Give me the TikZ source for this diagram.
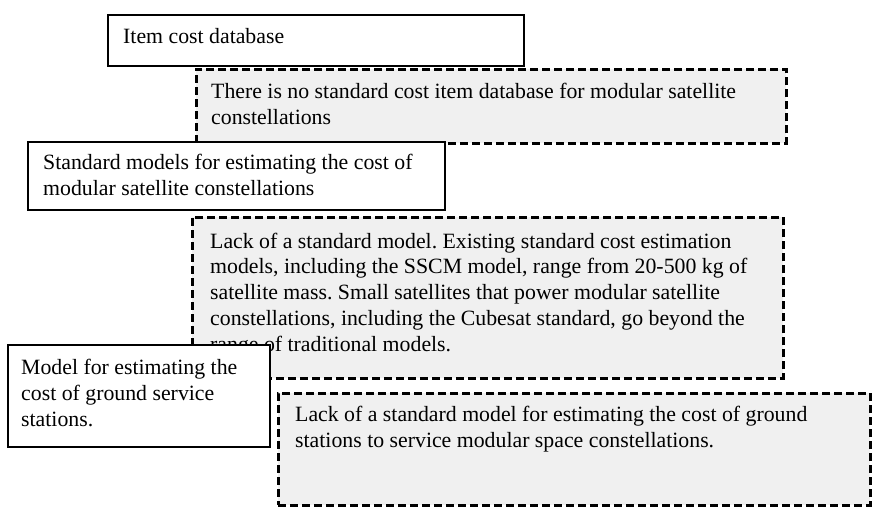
\documentclass[tikz,border=0pt]{standalone}
\usepackage{fontspec}
\setmainfont{Liberation Serif}
\usetikzlibrary{positioning}

\tikzset{
  factor/.style={draw, line width=2pt, fill=white, anchor=north west, inner sep=0pt, outer sep=0pt},
  gapbox/.style={draw, dash pattern=on 8pt off 4pt, line width=3pt, fill=black!6, anchor=north west, inner sep=0pt, outer sep=0pt},
  txt/.style={anchor=north west, align=left, inner sep=0pt, font=\fontsize{21.8}{25.75}\selectfont\frenchspacing}
}

\begin{document}
\begin{tikzpicture}[x=1pt, y=-1pt]
\useasboundingbox (0,0) rectangle (873,512);
% item cost database
\node[factor, minimum width=416pt, minimum height=51pt] (itemdb) at (108,15) {};
\node[txt] (itemdbt) at (123,28) {Item cost database};
\node[gapbox, minimum width=590pt, minimum height=74pt] (itemgap) at (196,69) {};
\node[txt] (itemgapt) at (211,83) {There is no standard cost item database for modular satellite\\constellations};
% standard models
\node[factor, minimum width=417pt, minimum height=68pt] (stdmodel) at (28,142) {};
\node[txt] (stdmodelt) at (43,154) {Standard models for estimating the cost of\\modular satellite constellations};
\node[gapbox, minimum width=591pt, minimum height=161pt] (stdgap) at (192,217) {};
\node[txt] (stdgapt) at (210,232.5) {Lack of a standard model. Existing standard cost estimation\\models, including the SSCM model, range from 20-500 kg of\\satellite mass. Small satellites that power modular satellite\\constellations, including the Cubesat standard, go beyond the\\range of traditional models.};
% ground stations
\node[factor, minimum width=262pt, minimum height=102pt] (groundmodel) at (8,345) {};
\node[txt] (groundmodelt) at (21,359) {Model for estimating the\\cost of ground service\\stations.};
\node[gapbox, minimum width=592pt, minimum height=112pt] (groundgap) at (278,393) {};
\node[txt] (groundgapt) at (295,406) {Lack of a standard model for estimating the cost of ground\\stations to service modular space constellations.};
\end{tikzpicture}
\end{document}
